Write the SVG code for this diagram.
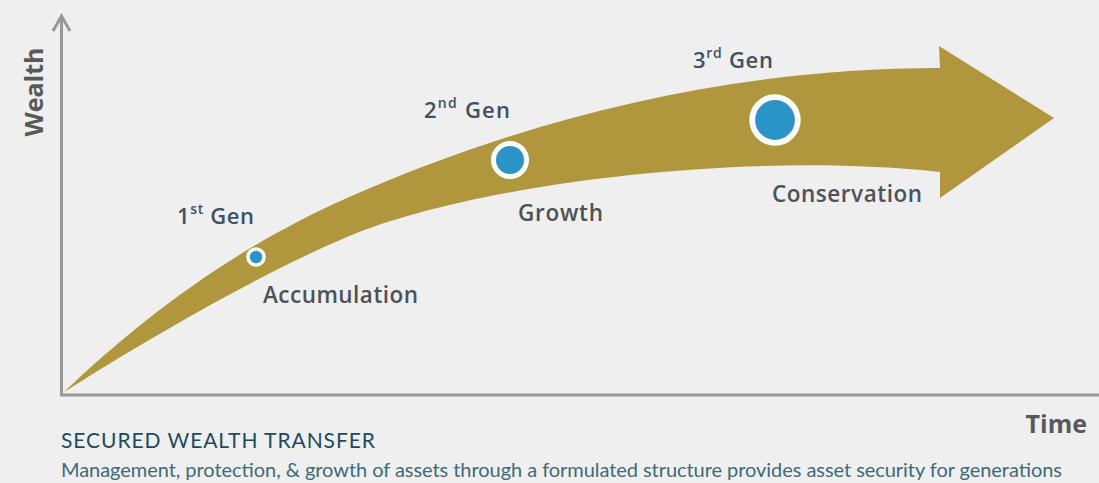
<svg xmlns="http://www.w3.org/2000/svg" width="1099" height="483" viewBox="0 0 1099 483">
<style>
.axis{fill:none;stroke:#98989a;stroke-width:3}
.lbl{font-family:"Open Sans","Liberation Sans",sans-serif;font-weight:600}
.gen{font-size:22px;fill:#3f5260}
.sup{font-size:14px}
.stage{font-size:22.5px;fill:#4c5257}
.axl{font-family:"Open Sans","Liberation Sans",sans-serif;font-weight:700;fill:#58595b;font-size:25px}
.ring{fill:#2a93c7;stroke:#ffffff}
.foot{font-family:Lato,"Liberation Sans",sans-serif}
</style>
<rect width="1099" height="483" fill="#efefef"/>
<g id="axes">
<line class="axis" x1="61.5" y1="16" x2="61.5" y2="396"/>
<line class="axis" x1="60" y1="395" x2="1099" y2="395"/>
<polyline class="axis" points="53,31 61.5,16 70,31"/>
<text class="axl" transform="translate(43,92) rotate(-90)" text-anchor="middle">Wealth</text>
<text class="axl" x="1087" y="433" text-anchor="end">Time</text>
</g>
<g id="band">
<path fill="#b0963c" d="M64,392 C140,320 230,250 347,198 C520,122 720,68 940,68 L939,46 L1054,118 L940,198 L940,172 C740,150 470,185 347,237 C250,278 130,350 64,392 Z"/>
</g>
<g id="gen1">
<circle class="ring" cx="256" cy="257" r="8" stroke-width="3.5"/>
<text class="lbl gen" x="177" y="224" textLength="77">1<tspan class="sup" dy="-10">st</tspan><tspan dy="10"> Gen</tspan></text>
<text class="lbl stage" x="263" y="303" textLength="155">Accumulation</text>
</g>
<g id="gen2">
<circle class="ring" cx="510" cy="160" r="16.5" stroke-width="5"/>
<text class="lbl gen" x="424" y="118" textLength="86">2<tspan class="sup" dy="-10">nd</tspan><tspan dy="10"> Gen</tspan></text>
<text class="lbl stage" x="518" y="221" textLength="85">Growth</text>
</g>
<g id="gen3">
<circle class="ring" cx="775" cy="120" r="22.8" stroke-width="5.8"/>
<text class="lbl gen" x="693" y="68" textLength="80">3<tspan class="sup" dy="-10">rd</tspan><tspan dy="10"> Gen</tspan></text>
<text class="lbl stage" x="772" y="202" textLength="150">Conservation</text>
</g>
<g id="footer">
<text class="foot" x="61" y="448" font-size="21" fill="#1d4a5e" textLength="314">SECURED WEALTH TRANSFER</text>
<text class="foot" x="61" y="477" font-size="20" fill="#3d6a78" textLength="1001">Management, protection, &amp; growth of assets through a formulated structure provides asset security for generations</text>
</g>
</svg>
